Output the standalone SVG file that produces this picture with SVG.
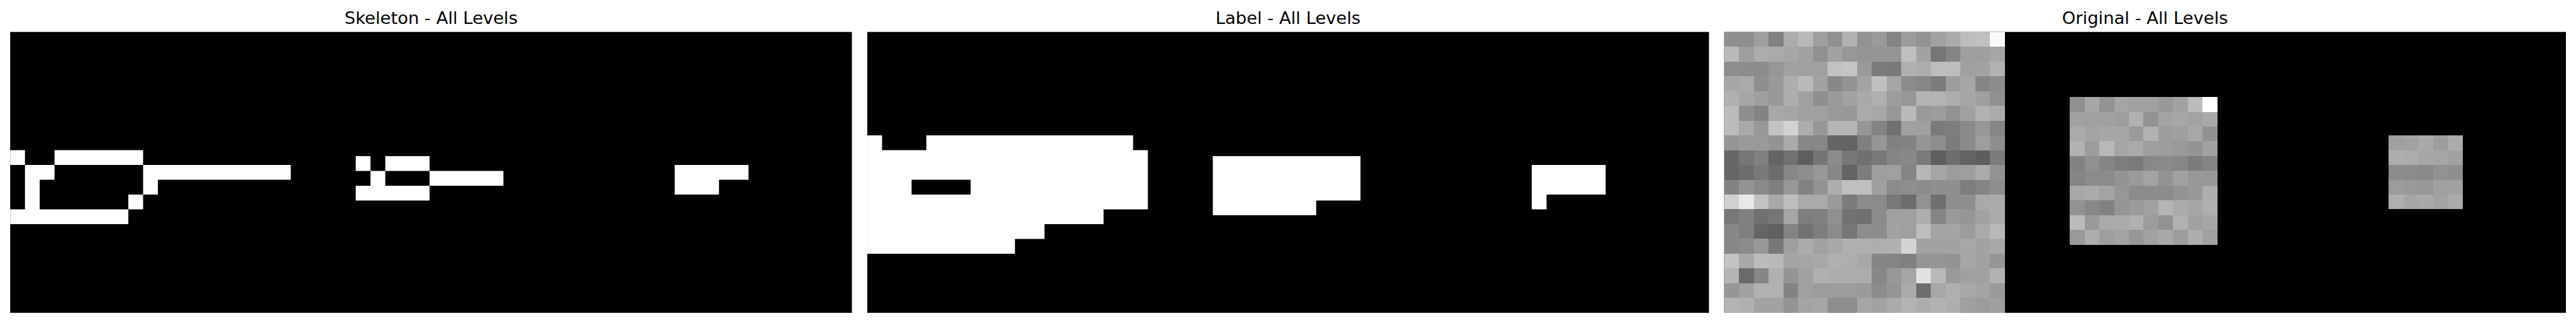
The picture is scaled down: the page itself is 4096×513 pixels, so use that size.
<svg xmlns="http://www.w3.org/2000/svg" width="4096" height="513" viewBox="0 0 4096 513">
<style>
text{font-family:"DejaVu Sans",sans-serif;font-size:50px;fill:#000;text-anchor:middle}
.bg{fill:#000;width:57px;height:19px}
.w{fill:#fff;fill-rule:evenodd}
.g{shape-rendering:crispEdges}
.g rect{width:1px;height:1px}
</style>
<rect width="4096" height="513" fill="#fff"/>
<g transform="scale(0.54833)">
<g id="skeleton">
<text x="1250" y="68.5">Skeleton - All Levels</text>
<g transform="translate(29.6,92.5) scale(42.82)">
<rect class="bg"/>
<path class="w" d="M0 8H1V9H0ZM3 8H9V9H19V10H10V11H9V12H8V13H0V12H1V9H3ZM3 9H9V11H8V12H2V10H3Z"/>
<path class="w" transform="translate(23.4,8.4)" d="M0 0H1V1H0ZM2 0H5V1H10V2H5V3H0V2H1V1H2ZM2 1H5V2H2Z"/>
<path class="w" d="M45 9H50V10H48V11H45Z"/>
</g>
</g>
<g id="label">
<text x="3735" y="68.5">Label - All Levels</text>
<g transform="translate(2515,92.5) scale(42.82)">
<rect class="bg"/>
<path class="w" d="M0 7H1V8H4V7H18V8H19V12H16V13H12V14H10V15H0ZM3 10H7V11H3Z"/>
<path class="w" d="M23.4 8.4H33.4V11.4H30.4V12.4H23.4Z"/>
<path class="w" d="M45 9H50V11H46V12H45Z"/>
</g>
</g>
<g id="original">
<text x="6220" y="68.5">Original - All Levels</text>
<g transform="translate(5000,92.5) scale(42.82)">
<rect class="bg"/>
<g class="g" id="patch-large">
<rect x="0" y="0" fill="#8f8f8f"/><rect x="1" y="0" fill="#8f8f8f"/><rect x="2" y="0" fill="#9e9e9e"/><rect x="3" y="0" fill="#808080"/><rect x="4" y="0" fill="#acacac"/><rect x="5" y="0" fill="#b9b9b9"/><rect x="6" y="0" fill="#9e9e9e"/><rect x="7" y="0" fill="#909090"/><rect x="8" y="0" fill="#b2b2b2"/><rect x="9" y="0" fill="#929292"/><rect x="10" y="0" fill="#9a9a9a"/><rect x="11" y="0" fill="#848484"/><rect x="12" y="0" fill="#9c9c9c"/><rect x="13" y="0" fill="#939393"/><rect x="14" y="0" fill="#a2a2a2"/><rect x="15" y="0" fill="#ababab"/><rect x="16" y="0" fill="#bdbdbd"/><rect x="17" y="0" fill="#c0c0c0"/><rect x="18" y="0" fill="#fafafa"/>
<rect x="0" y="1" fill="#b9b9b9"/><rect x="1" y="1" fill="#9e9e9e"/><rect x="2" y="1" fill="#acacac"/><rect x="3" y="1" fill="#aaaaaa"/><rect x="4" y="1" fill="#a6a6a6"/><rect x="5" y="1" fill="#a2a2a2"/><rect x="6" y="1" fill="#909090"/><rect x="7" y="1" fill="#a2a2a2"/><rect x="8" y="1" fill="#979797"/><rect x="9" y="1" fill="#959595"/><rect x="10" y="1" fill="#959595"/><rect x="11" y="1" fill="#959595"/><rect x="12" y="1" fill="#c0c0c0"/><rect x="13" y="1" fill="#a2a2a2"/><rect x="14" y="1" fill="#767676"/><rect x="15" y="1" fill="#848484"/><rect x="16" y="1" fill="#9f9f9f"/><rect x="17" y="1" fill="#9f9f9f"/><rect x="18" y="1" fill="#a6a6a6"/>
<rect x="0" y="2" fill="#8e8e8e"/><rect x="1" y="2" fill="#8d8d8d"/><rect x="2" y="2" fill="#8d8d8d"/><rect x="3" y="2" fill="#979797"/><rect x="4" y="2" fill="#a1a1a1"/><rect x="5" y="2" fill="#a0a0a0"/><rect x="6" y="2" fill="#a0a0a0"/><rect x="7" y="2" fill="#c2c2c2"/><rect x="8" y="2" fill="#c5c5c5"/><rect x="9" y="2" fill="#9a9a9a"/><rect x="10" y="2" fill="#7c7c7c"/><rect x="11" y="2" fill="#7a7a7a"/><rect x="12" y="2" fill="#b0b0b0"/><rect x="13" y="2" fill="#adadad"/><rect x="14" y="2" fill="#bdbdbd"/><rect x="15" y="2" fill="#bdbdbd"/><rect x="16" y="2" fill="#a0a0a0"/><rect x="17" y="2" fill="#a2a2a2"/><rect x="18" y="2" fill="#b2b2b2"/>
<rect x="0" y="3" fill="#a6a6a6"/><rect x="1" y="3" fill="#aaaaaa"/><rect x="2" y="3" fill="#8f8f8f"/><rect x="3" y="3" fill="#999999"/><rect x="4" y="3" fill="#aeaeae"/><rect x="5" y="3" fill="#bababa"/><rect x="6" y="3" fill="#a2a2a2"/><rect x="7" y="3" fill="#888888"/><rect x="8" y="3" fill="#939393"/><rect x="9" y="3" fill="#a3a3a3"/><rect x="10" y="3" fill="#c0c0c0"/><rect x="11" y="3" fill="#a6a6a6"/><rect x="12" y="3" fill="#8c8c8c"/><rect x="13" y="3" fill="#878787"/><rect x="14" y="3" fill="#7c7c7c"/><rect x="15" y="3" fill="#9d9d9d"/><rect x="16" y="3" fill="#a6a6a6"/><rect x="17" y="3" fill="#858585"/><rect x="18" y="3" fill="#8d8d8d"/>
<rect x="0" y="4" fill="#b0b0b0"/><rect x="1" y="4" fill="#a6a6a6"/><rect x="2" y="4" fill="#9e9e9e"/><rect x="3" y="4" fill="#989898"/><rect x="4" y="4" fill="#aeaeae"/><rect x="5" y="4" fill="#a1a1a1"/><rect x="6" y="4" fill="#8f8f8f"/><rect x="7" y="4" fill="#999999"/><rect x="8" y="4" fill="#a2a2a2"/><rect x="9" y="4" fill="#a9a9a9"/><rect x="10" y="4" fill="#afafaf"/><rect x="11" y="4" fill="#9c9c9c"/><rect x="12" y="4" fill="#979797"/><rect x="13" y="4" fill="#b4b4b4"/><rect x="14" y="4" fill="#b3b3b3"/><rect x="15" y="4" fill="#aeaeae"/><rect x="16" y="4" fill="#a6a6a6"/><rect x="17" y="4" fill="#9f9f9f"/><rect x="18" y="4" fill="#909090"/>
<rect x="0" y="5" fill="#bbbbbb"/><rect x="1" y="5" fill="#8f8f8f"/><rect x="2" y="5" fill="#838383"/><rect x="3" y="5" fill="#a8a8a8"/><rect x="4" y="5" fill="#a5a5a5"/><rect x="5" y="5" fill="#a1a1a1"/><rect x="6" y="5" fill="#a0a0a0"/><rect x="7" y="5" fill="#9a9a9a"/><rect x="8" y="5" fill="#989898"/><rect x="9" y="5" fill="#aaaaaa"/><rect x="10" y="5" fill="#a7a7a7"/><rect x="11" y="5" fill="#979797"/><rect x="12" y="5" fill="#bababa"/><rect x="13" y="5" fill="#999999"/><rect x="14" y="5" fill="#9d9d9d"/><rect x="15" y="5" fill="#929292"/><rect x="16" y="5" fill="#a1a1a1"/><rect x="17" y="5" fill="#b2b2b2"/><rect x="18" y="5" fill="#ababab"/>
<rect x="0" y="6" fill="#bbbbbb"/><rect x="1" y="6" fill="#a9a9a9"/><rect x="2" y="6" fill="#989898"/><rect x="3" y="6" fill="#c2c2c2"/><rect x="4" y="6" fill="#d2d2d2"/><rect x="5" y="6" fill="#adadad"/><rect x="6" y="6" fill="#979797"/><rect x="7" y="6" fill="#b4b4b4"/><rect x="8" y="6" fill="#b6b6b6"/><rect x="9" y="6" fill="#969696"/><rect x="10" y="6" fill="#838383"/><rect x="11" y="6" fill="#707070"/><rect x="12" y="6" fill="#a1a1a1"/><rect x="13" y="6" fill="#a0a0a0"/><rect x="14" y="6" fill="#7a7a7a"/><rect x="15" y="6" fill="#7e7e7e"/><rect x="16" y="6" fill="#8a8a8a"/><rect x="17" y="6" fill="#989898"/><rect x="18" y="6" fill="#868686"/>
<rect x="0" y="7" fill="#959595"/><rect x="1" y="7" fill="#9a9a9a"/><rect x="2" y="7" fill="#999999"/><rect x="3" y="7" fill="#939393"/><rect x="4" y="7" fill="#aaaaaa"/><rect x="5" y="7" fill="#878787"/><rect x="6" y="7" fill="#878787"/><rect x="7" y="7" fill="#656565"/><rect x="8" y="7" fill="#636363"/><rect x="9" y="7" fill="#7f7f7f"/><rect x="10" y="7" fill="#969696"/><rect x="11" y="7" fill="#818181"/><rect x="12" y="7" fill="#838383"/><rect x="13" y="7" fill="#959595"/><rect x="14" y="7" fill="#8d8d8d"/><rect x="15" y="7" fill="#7c7c7c"/><rect x="16" y="7" fill="#8a8a8a"/><rect x="17" y="7" fill="#9e9e9e"/><rect x="18" y="7" fill="#8e8e8e"/>
<rect x="0" y="8" fill="#676767"/><rect x="1" y="8" fill="#767676"/><rect x="2" y="8" fill="#808080"/><rect x="3" y="8" fill="#646464"/><rect x="4" y="8" fill="#717171"/><rect x="5" y="8" fill="#5e5e5e"/><rect x="6" y="8" fill="#757575"/><rect x="7" y="8" fill="#8b8b8b"/><rect x="8" y="8" fill="#767676"/><rect x="9" y="8" fill="#707070"/><rect x="10" y="8" fill="#787878"/><rect x="11" y="8" fill="#858585"/><rect x="12" y="8" fill="#888888"/><rect x="13" y="8" fill="#7b7b7b"/><rect x="14" y="8" fill="#5f5f5f"/><rect x="15" y="8" fill="#6d6d6d"/><rect x="16" y="8" fill="#636363"/><rect x="17" y="8" fill="#5d5d5d"/><rect x="18" y="8" fill="#7c7c7c"/>
<rect x="0" y="9" fill="#666666"/><rect x="1" y="9" fill="#6d6d6d"/><rect x="2" y="9" fill="#797979"/><rect x="3" y="9" fill="#6c6c6c"/><rect x="4" y="9" fill="#878787"/><rect x="5" y="9" fill="#8e8e8e"/><rect x="6" y="9" fill="#989898"/><rect x="7" y="9" fill="#868686"/><rect x="8" y="9" fill="#636363"/><rect x="9" y="9" fill="#7c7c7c"/><rect x="10" y="9" fill="#9e9e9e"/><rect x="11" y="9" fill="#a0a0a0"/><rect x="12" y="9" fill="#858585"/><rect x="13" y="9" fill="#b6b6b6"/><rect x="14" y="9" fill="#a5a5a5"/><rect x="15" y="9" fill="#9c9c9c"/><rect x="16" y="9" fill="#9f9f9f"/><rect x="17" y="9" fill="#aaaaaa"/><rect x="18" y="9" fill="#939393"/>
<rect x="0" y="10" fill="#838383"/><rect x="1" y="10" fill="#949494"/><rect x="2" y="10" fill="#8a8a8a"/><rect x="3" y="10" fill="#808080"/><rect x="4" y="10" fill="#989898"/><rect x="5" y="10" fill="#828282"/><rect x="6" y="10" fill="#929292"/><rect x="7" y="10" fill="#aeaeae"/><rect x="8" y="10" fill="#c0c0c0"/><rect x="9" y="10" fill="#c0c0c0"/><rect x="10" y="10" fill="#a0a0a0"/><rect x="11" y="10" fill="#8c8c8c"/><rect x="12" y="10" fill="#8e8e8e"/><rect x="13" y="10" fill="#8c8c8c"/><rect x="14" y="10" fill="#8f8f8f"/><rect x="15" y="10" fill="#8f8f8f"/><rect x="16" y="10" fill="#7e7e7e"/><rect x="17" y="10" fill="#858585"/><rect x="18" y="10" fill="#8e8e8e"/>
<rect x="0" y="11" fill="#d0d0d0"/><rect x="1" y="11" fill="#e8e8e8"/><rect x="2" y="11" fill="#c2c2c2"/><rect x="3" y="11" fill="#a8a8a8"/><rect x="4" y="11" fill="#bdbdbd"/><rect x="5" y="11" fill="#aaaaaa"/><rect x="6" y="11" fill="#aaaaaa"/><rect x="7" y="11" fill="#9a9a9a"/><rect x="8" y="11" fill="#7c7c7c"/><rect x="9" y="11" fill="#8c8c8c"/><rect x="10" y="11" fill="#8b8b8b"/><rect x="11" y="11" fill="#787878"/><rect x="12" y="11" fill="#6c6c6c"/><rect x="13" y="11" fill="#929292"/><rect x="14" y="11" fill="#707070"/><rect x="15" y="11" fill="#8e8e8e"/><rect x="16" y="11" fill="#8e8e8e"/><rect x="17" y="11" fill="#a9a9a9"/><rect x="18" y="11" fill="#ababab"/>
<rect x="0" y="12" fill="#787878"/><rect x="1" y="12" fill="#808080"/><rect x="2" y="12" fill="#707070"/><rect x="3" y="12" fill="#767676"/><rect x="4" y="12" fill="#a5a5a5"/><rect x="5" y="12" fill="#7e7e7e"/><rect x="6" y="12" fill="#808080"/><rect x="7" y="12" fill="#909090"/><rect x="8" y="12" fill="#727272"/><rect x="9" y="12" fill="#707070"/><rect x="10" y="12" fill="#8c8c8c"/><rect x="11" y="12" fill="#a0a0a0"/><rect x="12" y="12" fill="#a0a0a0"/><rect x="13" y="12" fill="#aeaeae"/><rect x="14" y="12" fill="#848484"/><rect x="15" y="12" fill="#9a9a9a"/><rect x="16" y="12" fill="#969696"/><rect x="17" y="12" fill="#a2a2a2"/><rect x="18" y="12" fill="#ababab"/>
<rect x="0" y="13" fill="#888888"/><rect x="1" y="13" fill="#808080"/><rect x="2" y="13" fill="#656565"/><rect x="3" y="13" fill="#606060"/><rect x="4" y="13" fill="#838383"/><rect x="5" y="13" fill="#727272"/><rect x="6" y="13" fill="#7e7e7e"/><rect x="7" y="13" fill="#8b8b8b"/><rect x="8" y="13" fill="#767676"/><rect x="9" y="13" fill="#8e8e8e"/><rect x="10" y="13" fill="#8c8c8c"/><rect x="11" y="13" fill="#a2a2a2"/><rect x="12" y="13" fill="#a0a0a0"/><rect x="13" y="13" fill="#bebebe"/><rect x="14" y="13" fill="#a4a4a4"/><rect x="15" y="13" fill="#a5a5a5"/><rect x="16" y="13" fill="#9c9c9c"/><rect x="17" y="13" fill="#aaaaaa"/><rect x="18" y="13" fill="#b8b8b8"/>
<rect x="0" y="14" fill="#888888"/><rect x="1" y="14" fill="#8c8c8c"/><rect x="2" y="14" fill="#989898"/><rect x="3" y="14" fill="#787878"/><rect x="4" y="14" fill="#9f9f9f"/><rect x="5" y="14" fill="#ababab"/><rect x="6" y="14" fill="#a1a1a1"/><rect x="7" y="14" fill="#a8a8a8"/><rect x="8" y="14" fill="#b0b0b0"/><rect x="9" y="14" fill="#b0b0b0"/><rect x="10" y="14" fill="#aeaeae"/><rect x="11" y="14" fill="#b0b0b0"/><rect x="12" y="14" fill="#d4d4d4"/><rect x="13" y="14" fill="#a2a2a2"/><rect x="14" y="14" fill="#a2a2a2"/><rect x="15" y="14" fill="#a2a2a2"/><rect x="16" y="14" fill="#a8a8a8"/><rect x="17" y="14" fill="#a2a2a2"/><rect x="18" y="14" fill="#a9a9a9"/>
<rect x="0" y="15" fill="#c3c3c3"/><rect x="1" y="15" fill="#a8a8a8"/><rect x="2" y="15" fill="#bcbcbc"/><rect x="3" y="15" fill="#b8b8b8"/><rect x="4" y="15" fill="#a4a4a4"/><rect x="5" y="15" fill="#a6a6a6"/><rect x="6" y="15" fill="#a8a8a8"/><rect x="7" y="15" fill="#b0b0b0"/><rect x="8" y="15" fill="#aeaeae"/><rect x="9" y="15" fill="#a8a8a8"/><rect x="10" y="15" fill="#868686"/><rect x="11" y="15" fill="#848484"/><rect x="12" y="15" fill="#818181"/><rect x="13" y="15" fill="#959595"/><rect x="14" y="15" fill="#959595"/><rect x="15" y="15" fill="#939393"/><rect x="16" y="15" fill="#a6a6a6"/><rect x="17" y="15" fill="#a2a2a2"/><rect x="18" y="15" fill="#969696"/>
<rect x="0" y="16" fill="#b4b4b4"/><rect x="1" y="16" fill="#6a6a6a"/><rect x="2" y="16" fill="#868686"/><rect x="3" y="16" fill="#b0b0b0"/><rect x="4" y="16" fill="#949494"/><rect x="5" y="16" fill="#a1a1a1"/><rect x="6" y="16" fill="#b0b0b0"/><rect x="7" y="16" fill="#adadad"/><rect x="8" y="16" fill="#adadad"/><rect x="9" y="16" fill="#acacac"/><rect x="10" y="16" fill="#888888"/><rect x="11" y="16" fill="#989898"/><rect x="12" y="16" fill="#a5a5a5"/><rect x="13" y="16" fill="#e2e2e2"/><rect x="14" y="16" fill="#b8b8b8"/><rect x="15" y="16" fill="#9a9a9a"/><rect x="16" y="16" fill="#a0a0a0"/><rect x="17" y="16" fill="#a1a1a1"/><rect x="18" y="16" fill="#b2b2b2"/>
<rect x="0" y="17" fill="#969696"/><rect x="1" y="17" fill="#a1a1a1"/><rect x="2" y="17" fill="#b1b1b1"/><rect x="3" y="17" fill="#b1b1b1"/><rect x="4" y="17" fill="#838383"/><rect x="5" y="17" fill="#a0a0a0"/><rect x="6" y="17" fill="#9c9c9c"/><rect x="7" y="17" fill="#9c9c9c"/><rect x="8" y="17" fill="#9c9c9c"/><rect x="9" y="17" fill="#9a9a9a"/><rect x="10" y="17" fill="#8c8c8c"/><rect x="11" y="17" fill="#959595"/><rect x="12" y="17" fill="#aaaaaa"/><rect x="13" y="17" fill="#6e6e6e"/><rect x="14" y="17" fill="#a8a8a8"/><rect x="15" y="17" fill="#b0b0b0"/><rect x="16" y="17" fill="#a9a9a9"/><rect x="17" y="17" fill="#a3a3a3"/><rect x="18" y="17" fill="#9a9a9a"/>
<rect x="0" y="18" fill="#b4b4b4"/><rect x="1" y="18" fill="#b0b0b0"/><rect x="2" y="18" fill="#a2a2a2"/><rect x="3" y="18" fill="#a2a2a2"/><rect x="4" y="18" fill="#949494"/><rect x="5" y="18" fill="#a4a4a4"/><rect x="6" y="18" fill="#a6a6a6"/><rect x="7" y="18" fill="#8e8e8e"/><rect x="8" y="18" fill="#8e8e8e"/><rect x="9" y="18" fill="#a6a6a6"/><rect x="10" y="18" fill="#a2a2a2"/><rect x="11" y="18" fill="#aaaaaa"/><rect x="12" y="18" fill="#b4b4b4"/><rect x="13" y="18" fill="#acacac"/><rect x="14" y="18" fill="#b2b2b2"/><rect x="15" y="18" fill="#aeaeae"/><rect x="16" y="18" fill="#a0a0a0"/><rect x="17" y="18" fill="#9c9c9c"/><rect x="18" y="18" fill="#a0a0a0"/>
</g>
<g class="g" id="patch-medium" transform="translate(23.4,4.4)">
<rect x="0" y="0" fill="#909090"/><rect x="1" y="0" fill="#a6a6a6"/><rect x="2" y="0" fill="#939393"/><rect x="3" y="0" fill="#a5a5a5"/><rect x="4" y="0" fill="#a1a1a1"/><rect x="5" y="0" fill="#a1a1a1"/><rect x="6" y="0" fill="#989898"/><rect x="7" y="0" fill="#a2a2a2"/><rect x="8" y="0" fill="#bcbcbc"/><rect x="9" y="0" fill="#ffffff"/>
<rect x="0" y="1" fill="#a2a2a2"/><rect x="1" y="1" fill="#a0a0a0"/><rect x="2" y="1" fill="#a1a1a1"/><rect x="3" y="1" fill="#9e9e9e"/><rect x="4" y="1" fill="#b1b1b1"/><rect x="5" y="1" fill="#929292"/><rect x="6" y="1" fill="#a3a3a3"/><rect x="7" y="1" fill="#a6a6a6"/><rect x="8" y="1" fill="#a3a3a3"/><rect x="9" y="1" fill="#a9a9a9"/>
<rect x="0" y="2" fill="#aaaaaa"/><rect x="1" y="2" fill="#a3a3a3"/><rect x="2" y="2" fill="#a7a7a7"/><rect x="3" y="2" fill="#a7a7a7"/><rect x="4" y="2" fill="#9a9a9a"/><rect x="5" y="2" fill="#b1b1b1"/><rect x="6" y="2" fill="#9d9d9d"/><rect x="7" y="2" fill="#9f9f9f"/><rect x="8" y="2" fill="#a8a8a8"/><rect x="9" y="2" fill="#919191"/>
<rect x="0" y="3" fill="#b2b2b2"/><rect x="1" y="3" fill="#9c9c9c"/><rect x="2" y="3" fill="#b8b8b8"/><rect x="3" y="3" fill="#a5a5a5"/><rect x="4" y="3" fill="#aaaaaa"/><rect x="5" y="3" fill="#9e9e9e"/><rect x="6" y="3" fill="#9d9d9d"/><rect x="7" y="3" fill="#999999"/><rect x="8" y="3" fill="#949494"/><rect x="9" y="3" fill="#a1a1a1"/>
<rect x="0" y="4" fill="#828282"/><rect x="1" y="4" fill="#909090"/><rect x="2" y="4" fill="#858585"/><rect x="3" y="4" fill="#7e7e7e"/><rect x="4" y="4" fill="#7b7b7b"/><rect x="5" y="4" fill="#888888"/><rect x="6" y="4" fill="#8a8a8a"/><rect x="7" y="4" fill="#868686"/><rect x="8" y="4" fill="#7c7c7c"/><rect x="9" y="4" fill="#848484"/>
<rect x="0" y="5" fill="#858585"/><rect x="1" y="5" fill="#8b8b8b"/><rect x="2" y="5" fill="#8b8b8b"/><rect x="3" y="5" fill="#949494"/><rect x="4" y="5" fill="#9a9a9a"/><rect x="5" y="5" fill="#a3a3a3"/><rect x="6" y="5" fill="#939393"/><rect x="7" y="5" fill="#a1a1a1"/><rect x="8" y="5" fill="#989898"/><rect x="9" y="5" fill="#979797"/>
<rect x="0" y="6" fill="#a8a8a8"/><rect x="1" y="6" fill="#ababab"/><rect x="2" y="6" fill="#a3a3a3"/><rect x="3" y="6" fill="#979797"/><rect x="4" y="6" fill="#8c8c8c"/><rect x="5" y="6" fill="#8c8c8c"/><rect x="6" y="6" fill="#8c8c8c"/><rect x="7" y="6" fill="#939393"/><rect x="8" y="6" fill="#989898"/><rect x="9" y="6" fill="#aeaeae"/>
<rect x="0" y="7" fill="#939393"/><rect x="1" y="7" fill="#888888"/><rect x="2" y="7" fill="#828282"/><rect x="3" y="7" fill="#959595"/><rect x="4" y="7" fill="#9b9b9b"/><rect x="5" y="7" fill="#a1a1a1"/><rect x="6" y="7" fill="#b4b4b4"/><rect x="7" y="7" fill="#ababab"/><rect x="8" y="7" fill="#a6a6a6"/><rect x="9" y="7" fill="#afafaf"/>
<rect x="0" y="8" fill="#bbbbbb"/><rect x="1" y="8" fill="#9a9a9a"/><rect x="2" y="8" fill="#aaaaaa"/><rect x="3" y="8" fill="#aaaaaa"/><rect x="4" y="8" fill="#b0b0b0"/><rect x="5" y="8" fill="#9c9c9c"/><rect x="6" y="8" fill="#929292"/><rect x="7" y="8" fill="#b1b1b1"/><rect x="8" y="8" fill="#a1a1a1"/><rect x="9" y="8" fill="#a6a6a6"/>
<rect x="0" y="9" fill="#999999"/><rect x="1" y="9" fill="#acacac"/><rect x="2" y="9" fill="#9e9e9e"/><rect x="3" y="9" fill="#a3a3a3"/><rect x="4" y="9" fill="#979797"/><rect x="5" y="9" fill="#a1a1a1"/><rect x="6" y="9" fill="#a9a9a9"/><rect x="7" y="9" fill="#9d9d9d"/><rect x="8" y="9" fill="#aeaeae"/><rect x="9" y="9" fill="#a1a1a1"/>
</g>
<g class="g" id="patch-small" transform="translate(45,7)">
<rect x="0" y="0" fill="#a0a0a0"/><rect x="1" y="0" fill="#a2a2a2"/><rect x="2" y="0" fill="#aaaaaa"/><rect x="3" y="0" fill="#9e9e9e"/><rect x="4" y="0" fill="#acacac"/>
<rect x="0" y="1" fill="#aeaeae"/><rect x="1" y="1" fill="#acacac"/><rect x="2" y="1" fill="#a7a7a7"/><rect x="3" y="1" fill="#a5a5a5"/><rect x="4" y="1" fill="#a1a1a1"/>
<rect x="0" y="2" fill="#8c8c8c"/><rect x="1" y="2" fill="#8b8b8b"/><rect x="2" y="2" fill="#898989"/><rect x="3" y="2" fill="#929292"/><rect x="4" y="2" fill="#8f8f8f"/>
<rect x="0" y="3" fill="#9c9c9c"/><rect x="1" y="3" fill="#999999"/><rect x="2" y="3" fill="#979797"/><rect x="3" y="3" fill="#a0a0a0"/><rect x="4" y="3" fill="#a1a1a1"/>
<rect x="0" y="4" fill="#afafaf"/><rect x="1" y="4" fill="#a6a6a6"/><rect x="2" y="4" fill="#a9a9a9"/><rect x="3" y="4" fill="#a2a2a2"/><rect x="4" y="4" fill="#ababab"/>
</g>
</g>
</g>
</g>
</svg>
